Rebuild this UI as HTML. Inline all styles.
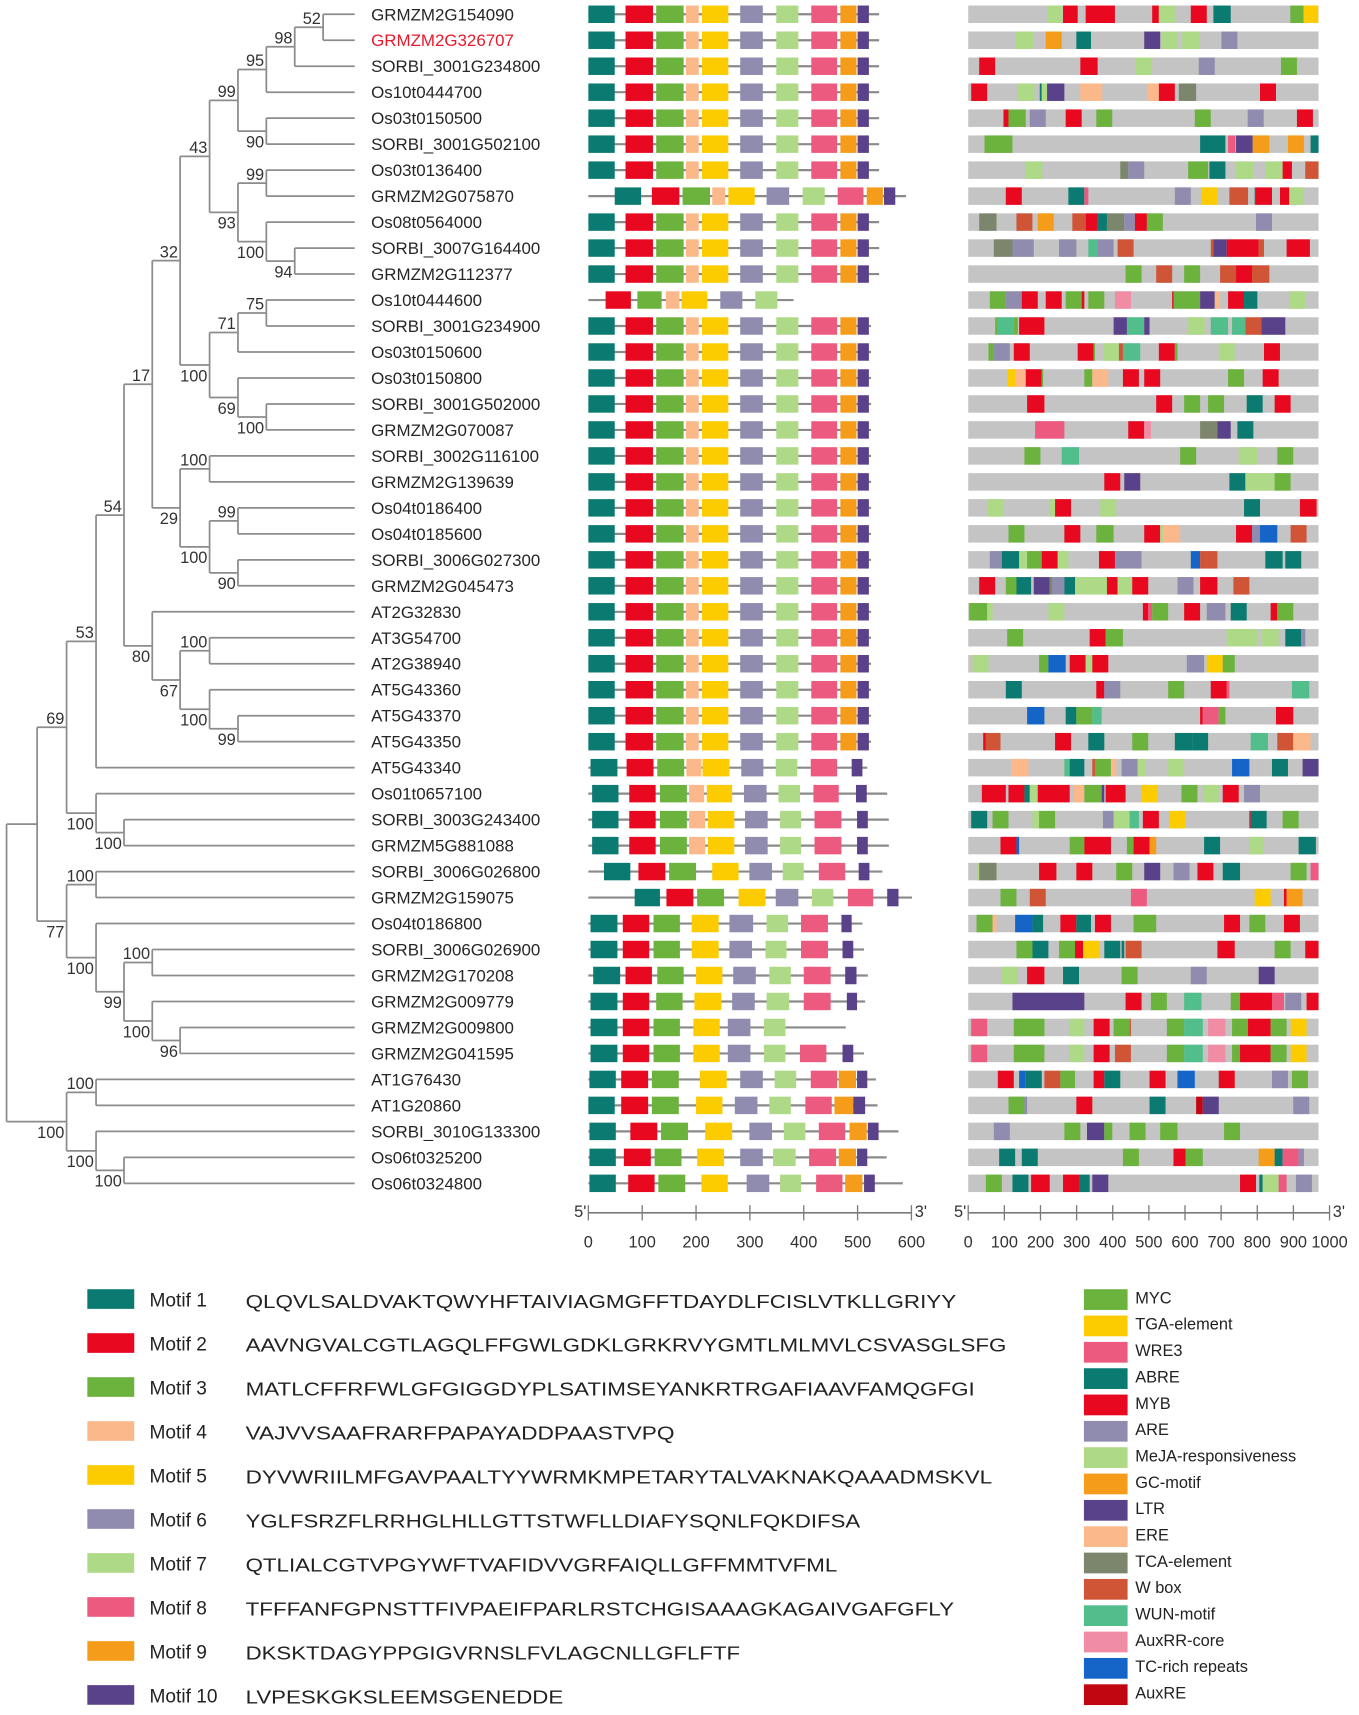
<!DOCTYPE html>
<html><head><meta charset="utf-8"><style>
html,body{margin:0;padding:0;background:#fff;}
svg{display:block;font-family:"Liberation Sans",Arial,sans-serif;}
</style></head>
<body>
<svg id="fig" xmlns="http://www.w3.org/2000/svg" width="1359" height="1715" viewBox="0 0 1245 1571">
<g id="tree"></g>
<g id="labels"></g>
<g id="motifs"></g>
<g id="promoters"></g>
<g id="axes"></g>
<g id="legend"></g>
</svg>
<script>
// ---------- data ----------
const genes=["GRMZM2G154090","GRMZM2G326707","SORBI_3001G234800","Os10t0444700","Os03t0150500","SORBI_3001G502100","Os03t0136400","GRMZM2G075870","Os08t0564000","SORBI_3007G164400","GRMZM2G112377","Os10t0444600","SORBI_3001G234900","Os03t0150600","Os03t0150800","SORBI_3001G502000","GRMZM2G070087","SORBI_3002G116100","GRMZM2G139639","Os04t0186400","Os04t0185600","SORBI_3006G027300","GRMZM2G045473","AT2G32830","AT3G54700","AT2G38940","AT5G43360","AT5G43370","AT5G43350","AT5G43340","Os01t0657100","SORBI_3003G243400","GRMZM5G881088","SORBI_3006G026800","GRMZM2G159075","Os04t0186800","SORBI_3006G026900","GRMZM2G170208","GRMZM2G009779","GRMZM2G009800","GRMZM2G041595","AT1G76430","AT1G20860","SORBI_3010G133300","Os06t0325200","Os06t0324800"];
const motifNames=["Motif 1","Motif 2","Motif 3","Motif 4","Motif 5","Motif 6","Motif 7","Motif 8","Motif 9","Motif 10"];
const motifSeqs=["QLQVLSALDVAKTQWYHFTAIVIAGMGFFTDAYDLFCISLVTKLLGRIYY","AAVNGVALCGTLAGQLFFGWLGDKLGRKRVYGMTLMLMVLCSVASGLSFG","MATLCFFRFWLGFGIGGDYPLSATIMSEYANKRTRGAFIAAVFAMQGFGI","VAJVVSAAFRARFPAPAYADDPAASTVPQ","DYVWRIILMFGAVPAALTYYWRMKMPETARYTALVAKNAKQAAADMSKVL","YGLFSRZFLRRHGLHLLGTTSTWFLLDIAFYSQNLFQKDIFSA","QTLIALCGTVPGYWFTVAFIDVVGRFAIQLLGFFMMTVFML","TFFFANFGPNSTTFIVPAEIFPARLRSTCHGISAAAGKAGAIVGAFGFLY","DKSKTDAGYPPGIGVRNSLFVLAGCNLLGFLFTF","LVPESKGKSLEEMSGENEDDE"];
const seqTextWidths=[651,697,668,393,684,563,542,649,453,291];
const stdMotifs=[[1,0,49],[2,69,120],[3,126,177],[4,181,205],[5,211,260],[6,282,324],[7,349,390],[8,414,462],[9,468,498],[10,500,521]];
const motifOffset=[0,0,0,0,0,0,0,49,0,0,0,0,0,0,0,0,0,0,0,0,0,0,0,0,0,0,0,0,0];
const geneLength=[540,540,540,540,540,540,540,590,540,540,540,381,525,525,525,525,525,525,525,525,525,525,525,525,525,525,525,525,525,518,555,558,558,546,601,509,512,519,514,478,512,534,537,576,554,584];
const explicitMotifs={
11:[[2,32,79],[3,91,136],[4,144,169],[5,173,221],[6,245,286],[7,310,351]],
29:[[1,4,54],[2,71,121],[3,128,178],[4,182,210],[5,212,262],[6,284,325],[7,348,388],[8,413,462],[10,489,509]],
30:[[1,7,56],[2,76,125],[3,133,183],[4,187,215],[5,220,267],[6,289,331],[7,353,393],[8,418,465],[10,497,517]],
31:[[1,7,56],[2,76,125],[3,133,183],[4,187,217],[5,222,271],[6,291,333],[7,356,395],[8,420,470],[10,499,519]],
32:[[1,7,56],[2,76,125],[3,133,183],[4,187,217],[5,222,271],[6,291,333],[7,356,395],[8,420,470],[10,499,519]],
33:[[1,29,78],[2,93,143],[3,150,200],[5,230,279],[6,299,341],[7,361,400],[8,428,477],[10,502,522]],
34:[[1,86,133],[2,145,195],[3,202,252],[5,279,329],[6,348,390],[7,415,455],[8,482,529],[10,555,576]],
35:[[1,4,54],[2,64,113],[3,121,170],[5,192,242],[6,262,306],[7,331,371],[8,395,445],[10,470,489]],
36:[[1,4,54],[2,64,113],[3,121,170],[5,192,242],[6,262,304],[7,329,368],[8,395,445],[10,472,492]],
37:[[1,9,59],[2,69,118],[3,128,177],[5,200,249],[6,269,311],[7,336,376],[8,400,450],[10,477,498]],
38:[[1,4,54],[2,64,113],[3,126,175],[5,197,247],[6,267,309],[7,331,373],[8,400,450],[10,480,499]],
39:[[1,4,54],[2,64,113],[3,121,170],[5,195,244],[6,259,301],[7,326,366]],
40:[[1,4,54],[2,64,113],[3,121,170],[5,195,244],[6,259,301],[7,326,366],[8,393,442],[10,472,492]],
41:[[1,2,51],[2,61,111],[3,118,168],[5,207,257],[6,282,324],[7,346,386],[8,413,462],[9,465,497],[10,499,518]],
42:[[1,0,49],[2,61,111],[3,118,168],[5,200,249],[6,272,314],[7,336,376],[8,403,452],[9,457,492],[10,492,514]],
43:[[1,2,51],[2,78,128],[3,135,185],[5,217,267],[6,299,341],[7,363,403],[8,428,477],[9,485,517],[10,519,539]],
44:[[1,2,51],[2,66,116],[3,123,173],[5,202,252],[6,282,324],[7,343,385],[8,410,460],[9,465,497],[10,499,518]],
45:[[1,2,51],[2,74,123],[3,130,180],[5,210,259],[6,294,336],[7,356,395],[8,423,472],[9,477,509],[10,512,532]]
};
const motifTicks=[0,100,200,300,400,500,600];
const promoterTicks=[0,100,200,300,400,500,600,700,800,900,1000];
const elementNames=["MYC","TGA-element","WRE3","ABRE","MYB","ARE","MeJA-responsiveness","GC-motif","LTR","ERE","TCA-element","W box","WUN-motif","AuxRR-core","TC-rich repeats","AuxRE"];
const elementCodes=["g","y","pk","t","r","lv","lg","o","pu","pe","ol","br","wn","ap","bl","dr"];
// promoter element positions (units along the promoter bar, 1053 units ~ 970 bp, starting at 25)
const promoterRows=[
[["lg",263,308],["r",310,354],["r",378,466],["r",578,598],["lg",598,646],["r",694,742],["t",762,814],["g",993,1033],["y",1033,1077]],
[["lg",168,220],["o",258,306],["t",350,394],["pu",554,602],["lg",606,654],["lg",668,720],["lv",786,834]],
[["r",58,106],["r",362,414],["lg",528,578],["lv",718,766],["g",965,1013]],
[["r",34,82],["lg",174,224],["t",240,246],["lg",246,262],["pu",262,314],["pe",362,428],["pe",562,598],["r",598,646],["ol",658,710],["r",902,950]],
[["r",131,146],["g",146,198],["lv",210,258],["r",318,366],["g",410,458],["g",706,754],["lv",865,913],["r",1013,1061]],
[["g",74,158],["t",722,798],["pk",806,828],["pu",830,880],["o",880,930],["o",986,1034],["t",1054,1078]],
[["lg",198,248],["ol",482,506],["lv",506,554],["g",686,746],["t",750,798],["lg",830,882],["lg",920,970],["r",970,998],["br",1038,1078]],
[["r",138,186],["t",326,374],["pk",374,386],["lv",646,694],["y",726,774],["br",810,866],["t",886,890],["r",890,938],["r",962,990],["lg",990,1034]],
[["ol",58,110],["br",170,218],["o",234,282],["br",338,378],["r",378,414],["t",414,442],["ol",442,494],["lv",494,526],["r",526,562],["g",562,610],["lv",890,938]],
[["ol",102,158],["lv",158,222],["lv",298,350],["wn",386,414],["lv",414,462],["br",474,522],["br",754,762],["pu",762,802],["r",802,898],["br",898,914],["r",982,1052]],
[["g",498,546],["br",590,638],["g",674,722],["br",782,830],["r",830,878],["br",878,930]],
[["g",90,138],["lv",138,186],["r",186,234],["r",258,306],["g",318,366],["r",366,374],["g",386,434],["ap",466,514],["r",638,642],["g",642,722],["pu",722,766],["pe",766,782],["r",806,854],["t",854,894],["lg",990,1038]],
[["g",106,114],["wn",114,162],["g",162,174],["r",178,254],["pu",462,502],["wn",502,554],["pu",554,570],["lg",686,736],["wn",754,806],["wn",818,858],["br",858,906],["pu",906,978]],
[["g",86,102],["lv",102,150],["r",162,210],["r",354,402],["g",402,406],["lg",432,478],["br",478,490],["wn",490,542],["r",598,646],["g",646,654],["lg",778,826],["r",914,962]],
[["y",142,166],["pe",166,198],["r",198,246],["g",246,250],["g",374,398],["pe",398,446],["r",490,538],["r",554,602],["g",806,854],["r",910,958]],
[["r",202,254],["r",590,638],["g",674,722],["g",746,794],["t",862,910],["r",946,994]],
[["pk",226,314],["r",506,554],["ap",554,574],["ol",722,774],["pu",774,814],["t",834,882]],
[["g",194,242],["wn",306,358],["g",662,710],["lg",838,894],["g",954,1002]],
[["r",434,482],["pu",494,542],["t",810,858],["lg",858,946],["g",946,994]],
[["lg",82,130],["lg",270,286],["r",286,334],["lg",422,470],["t",854,902],["r",1022,1072]],
[["g",146,194],["r",314,362],["g",410,462],["r",554,602],["lg",602,610],["pe",610,662],["r",830,878],["lv",878,902],["bl",902,954],["br",994,1042]],
[["lv",90,126],["t",126,178],["lg",178,202],["g",202,246],["r",246,294],["lg",294,326],["r",418,466],["lv",466,546],["bl",694,722],["br",722,774],["t",918,970],["t",978,1026]],
[["r",58,106],["g",138,170],["t",170,214],["pu",222,270],["ol",270,278],["lv",278,314],["t",314,346],["lg",346,442],["r",442,474],["lg",474,518],["r",518,566],["lv",654,702],["r",722,774],["br",822,870]],
[["g",28,82],["lg",82,98],["lg",266,314],["r",550,566],["pk",566,578],["g",578,626],["r",674,722],["lv",742,798],["t",814,862],["r",934,954],["g",954,1002]],
[["g",142,190],["r",390,438],["g",438,490],["lg",802,894],["lg",906,958],["t",978,1026],["lv",1026,1038]],
[["lg",38,86],["g",238,266],["bl",266,318],["r",330,378],["lg",378,398],["r",398,446],["lv",682,734],["y",742,790],["g",790,826]],
[["t",138,186],["r",410,434],["lv",434,482],["g",626,674],["r",754,802],["pk",802,810],["wn",998,1050]],
[["bl",202,254],["t",318,350],["g",350,398],["wn",398,426],["r",722,730],["pk",730,778],["g",778,798],["r",950,1002]],
[["r",70,78],["br",78,122],["r",286,334],["t",386,434],["g",518,566],["t",646,698],["t",698,746],["wn",874,926],["br",954,1002],["pe",1002,1054]],
[["pe",154,206],["wn",314,330],["t",330,374],["br",398,406],["g",406,454],["pe",454,470],["lv",486,534],["lg",534,558],["lg",626,674],["bl",818,870],["t",938,986],["pu",1030,1078]],
[["r",66,138],["r",146,194],["t",194,210],["lg",210,234],["r",234,330],["pe",342,374],["g",374,426],["pu",426,434],["r",438,498],["y",546,594],["g",666,714],["lg",730,778],["r",790,838],["lv",854,902]],
[["t",34,82],["g",98,146],["lg",218,238],["g",238,286],["lv",430,462],["lg",462,510],["wn",510,538],["r",550,598],["y",630,678],["r",870,874],["t",874,922],["g",970,1018]],
[["r",122,170],["bl",170,178],["g",330,374],["r",374,454],["g",502,522],["r",522,570],["o",570,590],["t",734,782],["lg",870,914],["t",1018,1070]],
[["lg",54,58],["ol",58,110],["r",238,290],["r",350,398],["g",470,518],["pu",554,602],["lv",642,690],["r",714,762],["t",790,842],["g",994,1042],["pk",1054,1078]],
[["g",122,170],["br",210,258],["pk",514,562],["y",886,934],["r",974,982],["o",982,1030]],
[["g",50,98],["pe",98,110],["bl",166,218],["t",218,250],["r",302,350],["t",350,394],["r",406,454],["g",522,590],["r",794,842],["g",870,918],["r",974,1022]],
[["g",170,218],["t",218,266],["g",298,346],["r",346,370],["y",370,418],["t",434,482],["t",486,494],["br",498,546],["r",774,826],["g",946,994],["r",1038,1078]],
[["lg",126,174],["r",202,254],["t",310,358],["g",486,534],["lv",694,742],["pu",898,946]],
[["pu",158,374],["r",498,546],["g",574,622],["wn",674,726],["g",814,842],["r",842,938],["pk",938,974],["lv",978,1026],["r",1042,1078]],
[["pk",34,82],["g",162,254],["lg",330,374],["r",402,450],["g",462,510],["br",510,514],["g",622,674],["wn",674,730],["ap",746,798],["g",818,866],["r",866,934],["g",934,982],["y",994,1042]],
[["pk",34,82],["g",162,254],["lg",330,374],["r",402,450],["br",466,514],["g",622,674],["wn",674,730],["ap",746,798],["g",818,842],["r",842,934],["g",934,982],["y",994,1042]],
[["r",114,162],["bl",178,198],["t",198,246],["br",254,302],["g",302,346],["r",402,434],["t",434,482],["r",570,618],["bl",654,706],["r",778,826],["lv",938,986],["g",998,1046]],
[["g",146,194],["lv",194,202],["r",350,398],["t",570,618],["dr",710,730],["pu",730,778],["lv",1002,1050]],
[["lv",102,150],["g",314,362],["pu",382,434],["g",434,458],["g",510,558],["g",602,654],["g",794,842]],
[["t",118,166],["t",186,234],["g",490,538],["r",642,678],["g",678,730],["o",898,946],["t",946,970],["pk",970,1018],["lv",1018,1034]],
[["g",78,126],["t",158,206],["r",214,270],["r",310,358],["t",358,390],["pu",398,446],["r",842,890],["t",900,910],["lg",910,958],["pk",958,982],["lv",1010,1058]]
];
// ---------- styles / scales ----------
const NS="http://www.w3.org/2000/svg";
const colors={t:"#0b7b71",r:"#e8081f",g:"#6cb33e",pe:"#fbb98b",y:"#fccc00",lv:"#8f8caf",lg:"#aed986",pk:"#ec5a80",o:"#f59d1b",pu:"#5a428a",ol:"#7c866d",br:"#d05537",wn:"#52be8b",ap:"#f18ca5",bl:"#1565c9",dr:"#c10612"};
const motifColors=["t","r","g","pe","y","lv","lg","pk","o","pu"];
const rowY=i=>13+i*23.8;
const xM=aa=>539+aa*0.4933;
const xP=u=>887+(u-25)*0.3048;
const xPbp=bp=>887+bp*0.331;
function el(tag,attrs,parent,text){const e=document.createElementNS(NS,tag);for(const k in attrs)e.setAttribute(k,attrs[k]);if(text!==undefined)e.textContent=text;parent.appendChild(e);return e;}
const G=id=>document.getElementById(id);

// ---------- gene labels ----------
genes.forEach((g,i)=>{
  const t=el("text",{x:340,y:rowY(i)+5.5,"font-size":15.5,fill:i===1?"#e8192c":"#262626"},G("labels"),g);
  
  
});

// ---------- motif panel ----------
genes.forEach((g,i)=>{
  const grp=el("g",{},G("motifs"));
  
  
  const y=rowY(i);
  const ln=el("line",{x1:xM(0),x2:xM(geneLength[i]),y1:y,y2:y,stroke:"#8a8a8a","stroke-width":2},grp);
  
  
  const list=explicitMotifs[i]||stdMotifs.map(m=>[m[0],m[1]+motifOffset[i],m[2]+motifOffset[i]]);
  list.forEach(m=>{
    const r=el("rect",{x:xM(m[1]),y:y-8,width:xM(m[2])-xM(m[1]),height:16,fill:colors[motifColors[m[0]-1]]},grp);
    
    
  });
});

// ---------- promoter panel ----------
promoterRows.forEach((row,i)=>{
  const grp=el("g",{},G("promoters"));
  
  
  const y=rowY(i);
  const bg=el("rect",{x:xP(25),y:y-8,width:xP(1078)-xP(25),height:16,fill:"#c4c4c4"},grp);
  
  
  row.forEach(e=>{
    const r=el("rect",{x:xP(e[1]),y:y-8,width:xP(e[2])-xP(e[1]),height:16,fill:colors[e[0]]},grp);
    
    
  });
});

// ---------- axes ----------
function axis(ticks,scale,x0,x1,name){
  const g=el("g",{},G("axes"));
  
  
  el("line",{x1:x0,x2:x1,y1:1111,y2:1111,stroke:"#7a7a7a","stroke-width":1.5},g);
  ticks.forEach(t=>{
    el("line",{x1:scale(t),x2:scale(t),y1:1104,y2:1118,stroke:"#7a7a7a","stroke-width":1.2},g);
    const tx=el("text",{x:scale(t),y:1143,"font-size":15,"text-anchor":"middle",fill:"#333"},g,String(t));
    
    
  });
  el("text",{x:x0-13,y:1115,"font-size":15,fill:"#333"},g,"5'");
  el("text",{x:x1+3,y:1115,"font-size":15,fill:"#333"},g,"3'");
}
axis(motifTicks,xM,539,835,"motif-axis");
axis(promoterTicks,xPbp,887,1218,"promoter-axis");

// ---------- tree ----------
function N(x,lab,c,pos){return {x:x,lab:lab,c:c,pos:pos||'a'};}
const tree=N(6,'',[
 N(34,'',[
  N(61,'69',[
   N(88,'53',[
    N(113.6,'54',[
     N(139.5,'17',[
      N(165,'32',[
       N(192,'43',[
        N(218,'99',[N(244,'95',[N(270,'98',[N(296,'52',[0,1]),2]),3]),N(244,'90',[4,5],'b')]),
        N(218,'93',[N(244,'99',[6,7]),N(244,'100',[8,N(270,'94',[9,10],'b')],'b')],'b')
       ]),
       N(192,'100',[N(218,'71',[N(244,'75',[11,12]),13]),N(218,'69',[14,N(244,'100',[15,16],'b')],'b')],'b')
      ]),
      N(165,'29',[N(192,'100',[17,18]),N(192,'100',[N(218,'99',[19,20]),N(218,'90',[21,22],'b')],'b')],'b')
     ]),
     N(139.5,'80',[23,N(165,'67',[N(192,'100',[24,25]),N(192,'100',[26,N(218,'99',[27,28],'b')],'b')],'b')],'b')
    ]),
    29
   ]),
   N(88,'100',[30,N(113.6,'100',[31,32],'b')],'b')
  ]),
  N(61,'77',[N(88,'100',[33,34]),N(88,'100',[35,N(113.6,'99',[N(139.5,'100',[36,37]),N(139.5,'100',[38,N(165,'96',[39,40],'b')],'b')],'b')],'b')],'b')
 ]),
 N(61,'100',[N(88,'100',[41,42]),N(88,'100',[43,N(113.6,'100',[44,45],'b')],'b')],'b')
]);
const TG=G("tree");
function drawNode(n){
  const ys=n.c.map(c=>typeof c==="number"?rowY(c):drawNode(c));
  const ln=el("line",{x1:n.x,x2:n.x,y1:ys[0],y2:ys[ys.length-1],stroke:"#8c8c8c","stroke-width":1.6},TG);
  
  
  n.c.forEach((c,k)=>{
    const cx=typeof c==="number"?325:c.x;
    const h=el("line",{x1:n.x,x2:cx,y1:ys[k],y2:ys[k],stroke:"#8c8c8c","stroke-width":1.6},TG);
    
    
  });
  const my=(ys[0]+ys[ys.length-1])/2;
  if(n.lab){
    const t=el("text",{x:n.x-2,y:n.pos==='a'?my-3:my+15,"font-size":15,"text-anchor":"end",fill:"#333"},TG,n.lab);
    
    
  }
  return my;
}
drawNode(tree);

// ---------- legend ----------
const LG=G("legend");
motifNames.forEach((m,i)=>{
  const y=1190+i*40.3;
  const g=el("g",{},LG);
  
  
  el("rect",{x:80,y:y-9,width:43,height:18,fill:colors[motifColors[i]]},g);
  el("text",{x:137,y:y+7,"font-size":17.5,fill:"#222"},g,m);
  el("text",{x:225,y:y+8,"font-size":17,fill:"#222",textLength:seqTextWidths[i],lengthAdjust:"spacingAndGlyphs"},g,motifSeqs[i]);
});
elementNames.forEach((n,i)=>{
  const y=1189+i*24.13;
  const g=el("g",{},LG);
  
  
  el("rect",{x:993,y:y-8,width:40,height:19,fill:colors[elementCodes[i]]},g);
  el("text",{x:1040,y:y+5,"font-size":15,fill:"#222"},g,n);
});
</script>
</body></html>
